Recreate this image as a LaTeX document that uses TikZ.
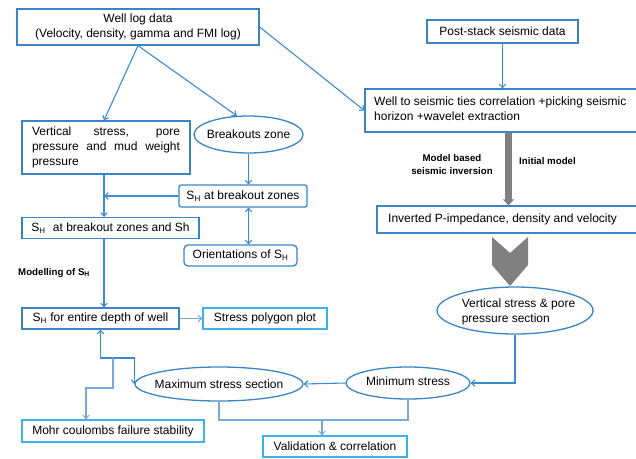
\documentclass[tikz,border=0pt]{standalone}
\usepackage{fontspec}
\setmainfont{Liberation Sans}
\usetikzlibrary{arrows.meta,shapes.geometric,calc}
\definecolor{bbox}{HTML}{3A85C6}
\definecolor{lboxc}{HTML}{3BB4EA}
\definecolor{cline}{HTML}{3C8AD0}
\definecolor{lline}{HTML}{7AAAD8}
\definecolor{greyc}{HTML}{808080}
\begin{document}
\begin{tikzpicture}[x=1pt,y=-1pt,
  font=\fontsize{12}{15}\selectfont,
  barb/.tip={Straight Barb[length=3.5pt,width=6.5pt]},
  box/.style={draw=bbox,line width=1.3pt,inner sep=0pt,align=center},
  lbox/.style={box,draw=lboxc},
  ell/.style={draw=bbox,line width=1.3pt,ellipse,inner sep=0pt},
  conn/.style={draw=cline,line width=1.1pt,-barb},
  dconn/.style={draw=cline,line width=1.1pt,barb-barb},
  lconn/.style={draw=lline,line width=1.1pt,-barb},
  small/.style={font=\fontsize{9.7}{13}\selectfont\bfseries}]
\useasboundingbox (0,0) rectangle (636,458);

% nodes
\node[box,minimum width=242pt,minimum height=36pt] (welllog) at (138,27) {Well log data\\(Velocity, density, gamma and FMI log)};
\node[box,minimum width=151pt,minimum height=23pt] (poststack) at (502.5,31.5) {Post-stack seismic data};
\node[box,minimum width=275pt,minimum height=43pt] (tie) at (502.5,110.5) {};
\node[anchor=west,align=left,inner sep=0pt] (tietext) at (374,108.5) {Well to seismic ties correlation +picking seismic\\horizon +wavelet extraction};
\node[box,minimum width=168pt,minimum height=53pt] (vs) at (106,147.5) {\parbox{148pt}{\makebox[148pt][s]{Vertical stress, pore}\\\makebox[148pt][s]{pressure and mud weight}\\pressure}};
\node[ell,minimum width=109pt,minimum height=37pt] (bz) at (248.5,134.5) {\makebox[0pt]{Breakouts zone}};
\node[box,rounded corners=2pt,minimum width=128pt,minimum height=22pt] (shb) at (243,196) {S\textsubscript{H} at breakout zones};
\node[box,minimum width=177pt,minimum height=21pt] (shsh) at (110.5,228) {S\textsubscript{H}\hspace{4pt} at breakout zones and Sh};
\node[box,rounded corners=4pt,minimum width=113pt,minimum height=21pt] (ori) at (240.5,255.5) {Orientations of S\textsubscript{H}};
\node[small,anchor=west,inner sep=0pt] (modl) at (18,273) {Modelling of S\textsubscript{H}};
\node[box,minimum width=157pt,minimum height=21pt] (shd) at (100.5,318.5) {S\textsubscript{H} for entire depth of well};
\node[lbox,minimum width=124pt,minimum height=21pt] (sp) at (265,318.5) {Stress polygon plot};
\node[ell,minimum width=168pt,minimum height=34pt] (maxs) at (219,384) {\makebox[0pt]{Maximum stress section}};
\node[lbox,minimum width=182pt,minimum height=22pt] (mohr) at (113,431) {Mohr coulombs failure stability};
\node[lbox,minimum width=144pt,minimum height=21pt] (val) at (335,446.5) {Validation \& correlation};
\node[ell,minimum width=124pt,minimum height=32pt] (mins) at (408,383) {\makebox[0pt]{\raisebox{3pt}{Minimum stress}}};
\node[ell,minimum width=156pt,minimum height=47pt] (vps) at (515,310.5) {};
\node[align=left,inner sep=0pt] (vpstext) at (518.5,311.5) {Vertical stress \& pore\\pressure section};
\node[box,minimum width=263pt,minimum height=27pt] (inv) at (508.5,219.5) {};
\node[anchor=west,inner sep=0pt] (invtext) at (388,219.5) {Inverted P-impedance, density and velocity};
\node[small,align=center,inner sep=0pt] (mbl) at (452,164.5) {Model based\\seismic inversion};
\node[small,anchor=west,inner sep=0pt] (iml) at (519,161) {Initial model};

% grey arrow and chevron
\draw[draw=greyc,line width=7pt,-{Triangle[length=6pt,width=11pt]}] (inv.north |- tie.south) -- (inv.north);
\fill[greyc] (492,237) -- (510,253) -- (528,237) -- (528,265) -- (510,286) -- (492,265) -- cycle;

% connectors
\coordinate (colx) at (104,0);
\draw[conn] (welllog.south) -- (colx |- vs.north);
\draw[conn] (welllog.south) -- (bz.122);
\draw[conn] (welllog.east) -- (tie.west);
\draw[conn] (poststack.south) -- (poststack.south |- tie.north);
\draw[conn] (bz.south) -- (bz.south |- shb.north);
\draw[conn] (shb.west) -- (shb.west -| colx);
\draw[conn] (colx |- vs.south) -- (colx |- shsh.north);
\draw[dconn] (bz.south |- shb.south) -- (bz.south |- ori.north);
\draw[conn] (colx |- shsh.south) -- (colx |- shd.north);
\draw[lconn] (shd.east) -- (sp.west);
\draw[conn] (mins.west) -- (maxs.east);
\draw[conn] (vps.south) |- (mins.east);
\coordinate (jA) at (100.5,358);
\coordinate (jB) at (maxs.west |- jA);
\draw[dconn] (shd.south) -- (jA) -- (jB) -- (maxs.west);
\coordinate (jC) at (113,358);
\coordinate (m1) at (86,388);
\draw[lconn] (jC) |- (m1) -- (m1 |- mohr.north);
\coordinate (vb) at (322,420);
\draw[draw=lline,line width=1.1pt] (maxs.south) |- (vb) -| (mins.south);
\draw[lconn] (vb) -- (vb |- val.north);
\end{tikzpicture}
\end{document}
